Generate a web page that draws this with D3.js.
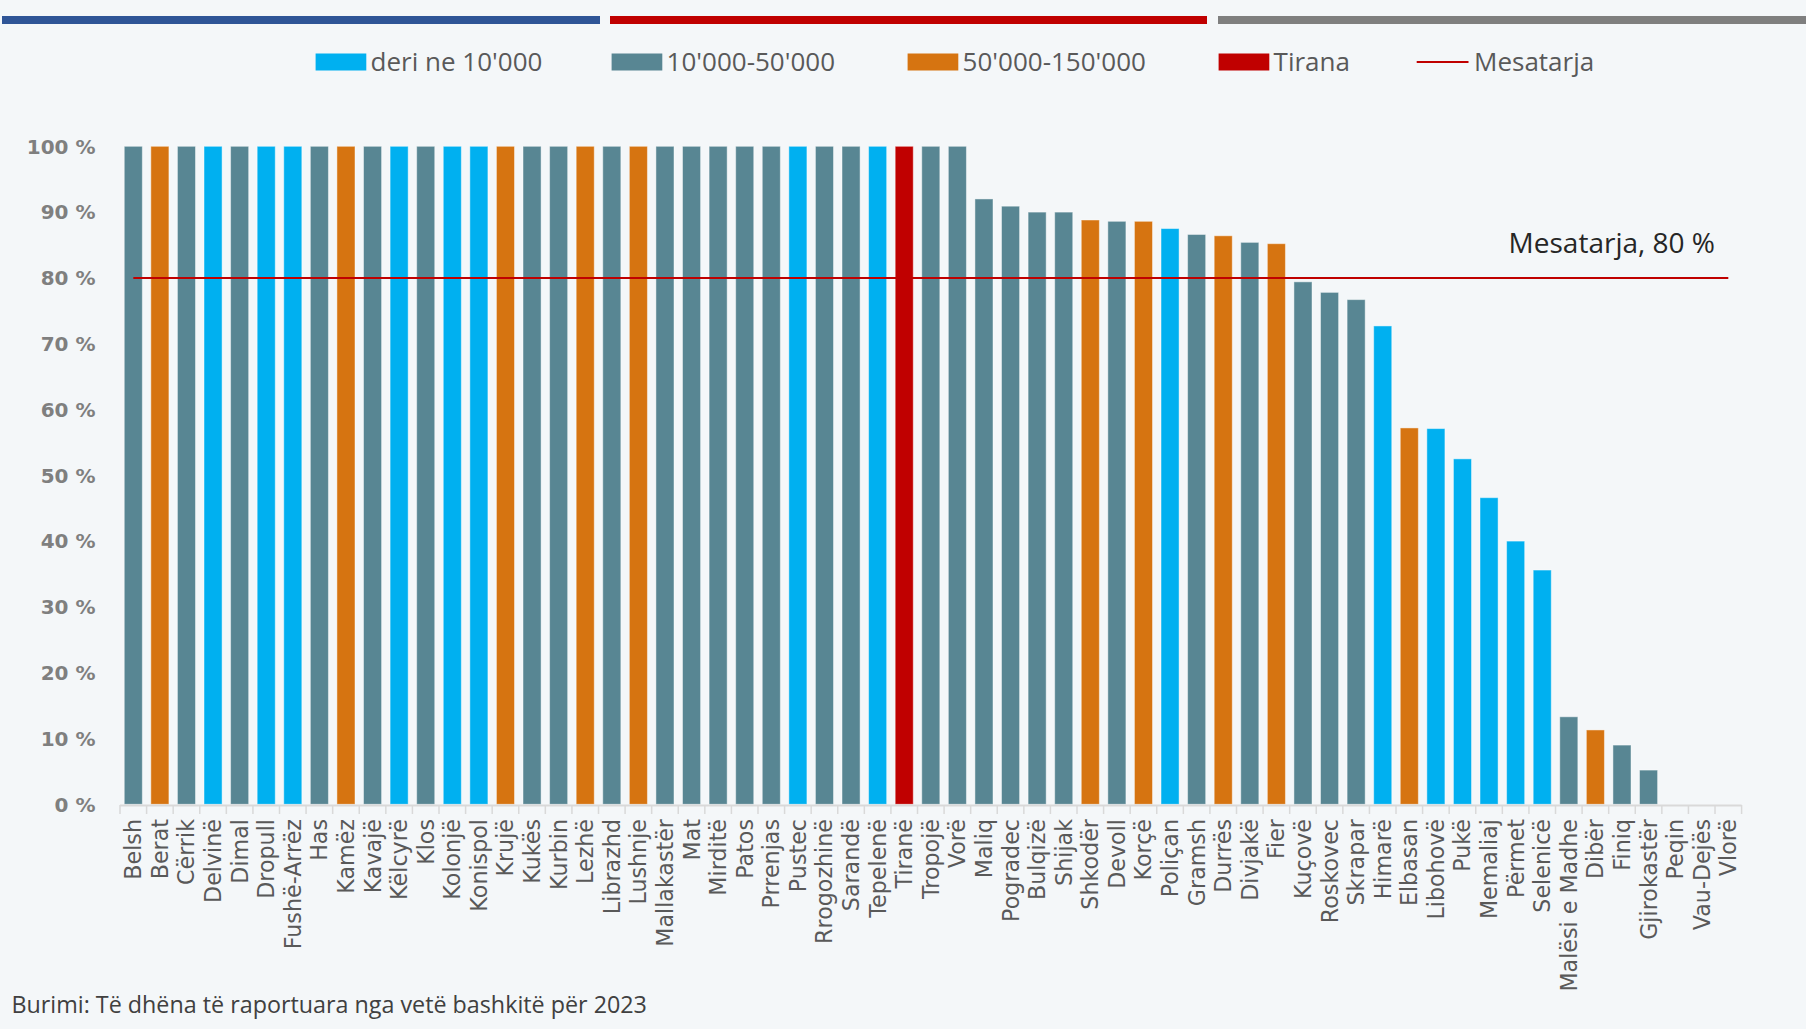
<!DOCTYPE html>
<html><head><meta charset="utf-8">
<script src="https://cdn.jsdelivr.net/npm/d3@7"></script>
<style>
html,body{margin:0;padding:0;background:#f4f7f9;}
svg{display:block;}
</style></head>
<body>
<svg id="chart" width="1806" height="1029"></svg>
<script>
const categories = ["Belsh","Berat","Cërrik","Delvinë","Dimal","Dropull","Fushë-Arrëz","Has","Kamëz","Kavajë","Këlcyrë","Klos","Kolonjë","Konispol","Krujë","Kukës","Kurbin","Lezhë","Librazhd","Lushnje","Mallakastër","Mat","Mirditë","Patos","Prrenjas","Pustec","Rrogozhinë","Sarandë","Tepelenë","Tiranë","Tropojë","Vorë","Maliq","Pogradec","Bulqizë","Shijak","Shkodër","Devoll","Korçë","Poliçan","Gramsh","Durrës","Divjakë","Fier","Kuçovë","Roskovec","Skrapar","Himarë","Elbasan","Libohovë","Pukë","Memaliaj","Përmet","Selenicë","Malësi e Madhe","Dibër","Finiq","Gjirokastër","Peqin","Vau-Dejës","Vlorë"];
const values = [100,100,100,100,100,100,100,100,100,100,100,100,100,100,100,100,100,100,100,100,100,100,100,100,100,100,100,100,100,100,100,100,92.0,90.9,90.0,90.0,88.8,88.6,88.6,87.5,86.6,86.4,85.4,85.2,79.4,77.8,76.7,72.7,57.2,57.1,52.5,46.6,40.0,35.6,13.3,11.3,9.0,5.2,0,0,0];
// group codes: A = deri ne 10'000, B = 10'000-50'000, C = 50'000-150'000, T = Tirana
const groups = ["B","C","B","A","B","A","A","B","C","B","A","B","A","A","C","B","B","C","B","C","B","B","B","B","B","A","B","B","A","T","B","B","B","B","B","B","C","B","C","A","B","C","B","C","B","B","B","A","C","A","A","A","A","A","B","C","B","B","B","B","C"];
const groupKeys = ["A","B","C","T"];
const groupLabels = ["deri ne 10'000","10'000-50'000","50'000-150'000","Tirana"];
const groupColors = ["#00b0f0","#588693","#d67411","#c00000"];
const meanValue = 80;
const meanLabel = "Mesatarja";
const meanAnnotation = "Mesatarja, 80 %";
const yTicks = [0,10,20,30,40,50,60,70,80,90,100];
const sourceText = "Burimi: Të dhëna të raportuara nga vetë bashkitë për 2023";

const svg = d3.select("#chart");
svg.append("rect").attr("width",1806).attr("height",1029).attr("fill","#f4f7f9");

// top decorative bands
const bands = [{x0:2,x1:600,c:"#2f5597"},{x0:610,x1:1207,c:"#c00000"},{x0:1218,x1:1806,c:"#7f7f7f"}];
svg.selectAll("rect.band").data(bands).enter().append("rect")
  .attr("x",d=>d.x0).attr("y",16).attr("width",d=>d.x1-d.x0).attr("height",8).attr("fill",d=>d.c);

const color = d3.scaleOrdinal().domain(groupKeys).range(groupColors);
const x = d3.scaleBand().domain(categories).range([120,1741.6]).paddingInner(0.32).paddingOuter(0.16);
const y = d3.scaleLinear().domain([0,100]).range([804.3,146.3]);

// y labels
svg.selectAll("text.ytick").data(yTicks).enter().append("text")
  .attr("x",95.5).attr("y",d=>y(d)).attr("dy","0.36em")
  .attr("text-anchor","end")
  .attr("font-family","'DejaVu Sans', Verdana, sans-serif").attr("font-weight","bold")
  .attr("font-size",20).attr("fill","#7f7f7f")
  .text(d=>d+" %");

// bars
const data = categories.map((c,i)=>({c, v:values[i], g:groups[i]}));
svg.selectAll("rect.bar").data(data.filter(d=>d.v>0)).enter().append("rect")
  .attr("x",d=>x(d.c)).attr("width",x.bandwidth())
  .attr("y",d=>y(d.v)).attr("height",d=>y(0)-y(d.v))
  .attr("fill",d=>color(d.g))
  .attr("stroke","#ffffff").attr("stroke-opacity",0.45).attr("stroke-width",1);

// x axis
const step = x.step();
const x0 = x.range()[0], x1 = x.range()[1];
svg.append("line").attr("x1",x0).attr("x2",x1).attr("y1",805.5).attr("y2",805.5)
  .attr("stroke","#d9d9d9").attr("stroke-width",2);
const boundaries = categories.map(c=>x(c)+x.bandwidth()/2-step/2).concat([x(categories[categories.length-1])+x.bandwidth()/2+step/2]);
svg.selectAll("line.xtick").data(boundaries).enter().append("line")
  .attr("x1",d=>d).attr("x2",d=>d).attr("y1",805).attr("y2",814)
  .attr("stroke","#d9d9d9").attr("stroke-width",1.5);

svg.selectAll("text.xlab").data(categories).enter().append("text")
  .attr("transform",d=>`translate(${x(d)+x.bandwidth()/2},819) rotate(-90)`)
  .attr("text-anchor","end").attr("dy","0.36em")
  .attr("font-family","'DejaVu Sans', Verdana, sans-serif")
  .attr("font-size",22.2).attr("fill","#595959")
  .text(d=>d);

// mean line
const cx = c=>x(c)+x.bandwidth()/2;
svg.append("line")
  .attr("x1",cx(categories[0])).attr("x2",cx(categories[categories.length-1]))
  .attr("y1",y(meanValue)).attr("y2",y(meanValue))
  .attr("stroke","#c00000").attr("stroke-width",2);
svg.append("text").attr("x",1715).attr("y",y(meanValue)-35).attr("text-anchor","end")
  .attr("dy","0.35em")
  .attr("font-family","'Open Sans', sans-serif").attr("font-size",28).attr("fill","#262626")
  .text(meanAnnotation);

// legend
const legendX = [315.6,611.6,907.6,1218.6];
const lg = svg.append("g");
groupKeys.forEach((k,i)=>{
  lg.append("rect").attr("x",legendX[i]).attr("y",53.5).attr("width",50.7).attr("height",17).attr("fill",color(k));
  lg.append("text").attr("x",legendX[i]+55).attr("y",62).attr("dy","0.35em")
    .attr("font-family","'Open Sans', sans-serif").attr("font-size",26).attr("fill","#595959")
    .text(groupLabels[i]);
});
lg.append("line").attr("x1",1416.7).attr("x2",1468.5).attr("y1",62).attr("y2",62).attr("stroke","#c00000").attr("stroke-width",2);
lg.append("text").attr("x",1474).attr("y",62).attr("dy","0.35em")
  .attr("font-family","'Open Sans', sans-serif").attr("font-size",26).attr("fill","#595959")
  .text(meanLabel);

// source
svg.append("text").attr("x",11.5).attr("y",1005).attr("dy","0.35em")
  .attr("font-family","'Open Sans', sans-serif").attr("font-size",23.3).attr("fill","#404040")
  .text(sourceText);
</script>
</body></html>
